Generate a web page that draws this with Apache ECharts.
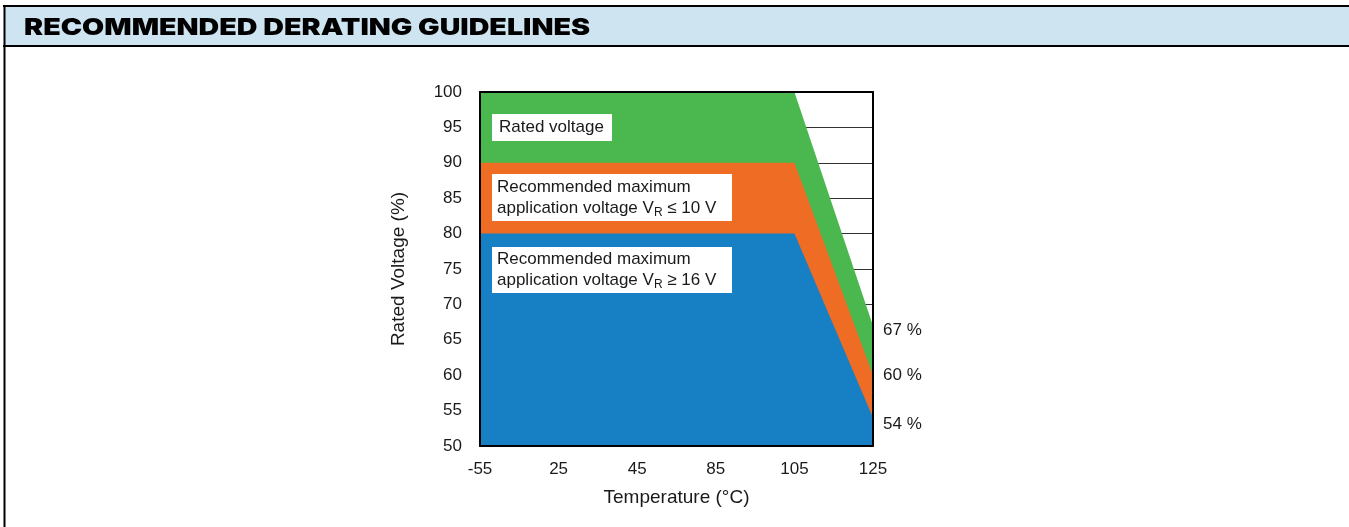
<!DOCTYPE html>
<html>
<head>
<meta charset="utf-8">
<script src="https://cdn.jsdelivr.net/npm/echarts@6/dist/echarts.min.js"></script>
<style>
html,body{margin:0;padding:0;background:#fff;}
#c{width:1349px;height:527px;}
</style>
</head>
<body>
<div id="c"></div>
<script>
const titleText = 'RECOMMENDED DERATING GUIDELINES';
const categories = ['-55', '25', '45', '85', '105', '125'];
const ratedVoltage = [100, 100, 100, 100, 100, 67];
const maxVR10 = [90, 90, 90, 90, 90, 60];
const maxVR16 = [80, 80, 80, 80, 80, 54];
const yMin = 50, yMax = 100, yInterval = 5;
const xName = 'Temperature (°C)';
const yName = 'Rated Voltage (%)';

const FONT = '"Liberation Sans", Arial, sans-serif';
const chart = echarts.init(document.getElementById('c'), null, {renderer: 'canvas'});

function areaSeries(name, data, color, offY) {
  return {
    name: name, type: 'line', data: data, symbol: 'none', yAxisIndex: 0,
    lineStyle: {width: 0, color: color},
    itemStyle: {color: color},
    areaStyle: {color: color, opacity: 1, origin: 'start'},
    endLabel: {show: true, formatter: '{c} %', color: '#1a1a1a', fontSize: 17, fontFamily: FONT, distance: 10, offset: [0, offY]},
    z: 2
  };
}

const lineAxis = {show: true, lineStyle: {color: '#000', width: 2}};
chart.setOption({
  animation: false,
  grid: {left: 480, top: 92, right: 476, bottom: 81, containLabel: false},
  xAxis: [{
    type: 'category', data: categories, boundaryGap: false, position: 'bottom', z: 10,
    axisLine: lineAxis, axisTick: {show: false},
    axisLabel: {color: '#1a1a1a', fontSize: 17, fontFamily: FONT, margin: 15},
    splitLine: {show: false},
    name: xName, nameLocation: 'middle', nameGap: 42,
    nameTextStyle: {color: '#1a1a1a', fontSize: 19, fontFamily: FONT}
  }, {
    type: 'category', data: categories, boundaryGap: false, position: 'top', z: 10,
    axisLine: lineAxis, axisTick: {show: false}, axisLabel: {show: false}, splitLine: {show: false}
  }],
  yAxis: [{
    type: 'value', min: yMin, max: yMax, interval: yInterval, position: 'left', z: 10,
    axisLine: lineAxis, axisTick: {show: false},
    axisLabel: {color: '#1a1a1a', fontSize: 17, fontFamily: FONT, margin: 18},
    splitLine: {show: false},
    name: yName, nameLocation: 'middle', nameGap: 72,
    nameTextStyle: {color: '#1a1a1a', fontSize: 19, fontFamily: FONT}
  }, {
    type: 'value', min: yMin, max: yMax, interval: yInterval, position: 'right', z: 10,
    axisLine: lineAxis, axisTick: {show: false}, axisLabel: {show: false}, splitLine: {show: false}
  }, {
    type: 'value', min: yMin, max: yMax, interval: yInterval, position: 'right', offset: 0, z: 0,
    axisLine: {show: false}, axisTick: {show: false}, axisLabel: {show: false},
    splitLine: {show: true, lineStyle: {color: '#333', width: 1}}
  }],
  series: [
    areaSeries('Rated voltage', ratedVoltage, '#4ab84f', 5),
    areaSeries('VR <= 10 V', maxVR10, '#ef6c25', 0),
    areaSeries('VR >= 16 V', maxVR16, '#177fc3', 7)
  ],
  graphic: [
    // header band
    {type: 'rect', shape: {x: 4, y: 6, width: 1345, height: 40}, style: {fill: '#cee5f1'}, z: 1},
    {type: 'line', shape: {x1: 3, y1: 6, x2: 1349, y2: 6}, style: {stroke: '#000', lineWidth: 2}, z: 2},
    {type: 'line', shape: {x1: 3, y1: 46, x2: 1349, y2: 46}, style: {stroke: '#000', lineWidth: 2}, z: 2},
    {type: 'line', shape: {x1: 4.5, y1: 5, x2: 4.5, y2: 527}, style: {stroke: '#000', lineWidth: 2}, z: 2},
    {type: 'text', x: 24, y: 28.5, scaleX: 1.245, z: 3,
      style: {text: titleText, fill: '#000', font: '900 23px Inter, "DejaVu Sans", sans-serif', verticalAlign: 'middle'}},
    // annotation boxes
    {type: 'rect', shape: {x: 492, y: 114, width: 120, height: 27}, style: {fill: '#fff'}, z: 20},
    {type: 'text', x: 499, y: 127.5, z: 21,
      style: {text: 'Rated voltage', fill: '#1a1a1a', fontSize: 17, fontFamily: FONT, verticalAlign: 'middle'}},
    {type: 'rect', shape: {x: 492, y: 174, width: 240, height: 47}, style: {fill: '#fff'}, z: 20},
    {type: 'text', x: 497, y: 177, z: 21,
      style: {text: '{a|Recommended maximum}\n{a|application voltage V}{s|R}{a| ≤ 10 V}', fill: '#1a1a1a', fontFamily: FONT,
        rich: {a: {fontSize: 17, lineHeight: 21, fontFamily: FONT, fill: '#1a1a1a'}, s: {fontSize: 12, lineHeight: 21, padding: [8, 0, 0, 0], fontFamily: FONT, fill: '#1a1a1a', verticalAlign: 'bottom'}}}},
    {type: 'rect', shape: {x: 492, y: 247, width: 240, height: 46}, style: {fill: '#fff'}, z: 20},
    {type: 'text', x: 497, y: 249, z: 21,
      style: {text: '{a|Recommended maximum}\n{a|application voltage V}{s|R}{a| ≥ 16 V}', fill: '#1a1a1a', fontFamily: FONT,
        rich: {a: {fontSize: 17, lineHeight: 21, fontFamily: FONT, fill: '#1a1a1a'}, s: {fontSize: 12, lineHeight: 21, padding: [8, 0, 0, 0], fontFamily: FONT, fill: '#1a1a1a', verticalAlign: 'bottom'}}}}
  ]
});
</script>
</body>
</html>
